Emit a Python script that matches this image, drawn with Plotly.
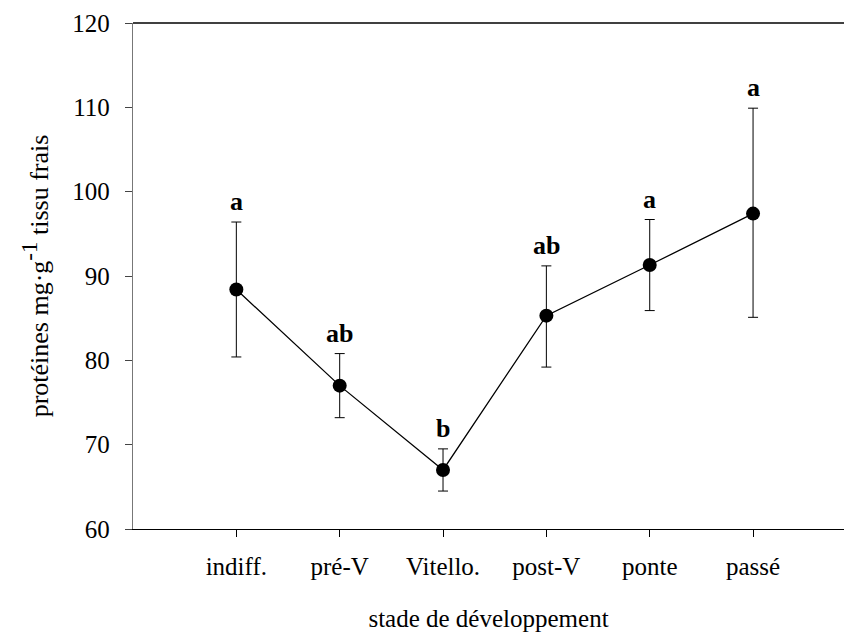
import plotly.graph_objects as go

stages = ["indiff.", "pré-V", "Vitello.", "post-V", "ponte", "passé"]
means = [88.4, 77.0, 67.0, 85.3, 91.3, 97.4]
upper = [96.4, 80.8, 69.5, 91.2, 96.7, 109.9]
lower = [80.4, 73.2, 64.5, 79.2, 85.9, 85.1]
letters = ["a", "ab", "b", "ab", "a", "a"]
yticks = [60, 70, 80, 90, 100, 110, 120]

err_plus = [u - m for u, m in zip(upper, means)]
err_minus = [m - l for m, l in zip(means, lower)]

FONT = "'Times New Roman', 'Liberation Serif', serif"

fig = go.Figure()
fig.add_trace(go.Scatter(
    x=stages, y=means, mode="lines+markers",
    line=dict(color="black", width=1.3),
    marker=dict(color="black", size=14, symbol="circle"),
    error_y=dict(type="data", symmetric=False, array=err_plus, arrayminus=err_minus,
                 color="black", thickness=1, width=5),
    showlegend=False, cliponaxis=False,
))

for s, u, t in zip(stages, upper, letters):
    fig.add_annotation(x=s, y=u, text=f"<b>{t}</b>", showarrow=False,
                       yanchor="bottom", yshift=4,
                       font=dict(family=FONT, size=26, color="black"))

fig.add_shape(type="line", xref="paper", yref="paper", x0=0, x1=1, y0=1, y1=1,
              line=dict(color="black", width=1.3))

fig.update_layout(
    width=844, height=632,
    margin=dict(l=133, r=0, t=23, b=103),
    paper_bgcolor="white", plot_bgcolor="white",
    font=dict(family=FONT, size=25, color="black"),
    xaxis=dict(
        type="category", range=[-1, 5.88],
        showline=True, linecolor="black", linewidth=1.3,
        ticks="outside", ticklen=7, tickcolor="black", tickwidth=1,
        showgrid=False, zeroline=False,
        tickfont=dict(family=FONT, size=25),
        ticklabelstandoff=8,
        title=dict(text="stade de développement", font=dict(family=FONT, size=25), standoff=31),
    ),
    yaxis=dict(
        range=[60, 120], tickvals=yticks,
        showline=True, linecolor="#777777", linewidth=1.3,
        ticks="outside", ticklen=7, tickcolor="#444444", tickwidth=1,
        showgrid=False, zeroline=False,
        tickfont=dict(family=FONT, size=25),
        ticklabelstandoff=10,
        title=dict(text="protéines mg·g<sup><span style='font-size:23px'>-1</span></sup> tissu frais",
                   font=dict(family=FONT, size=26), standoff=16),
    ),
)

fig.write_html("out.html")
